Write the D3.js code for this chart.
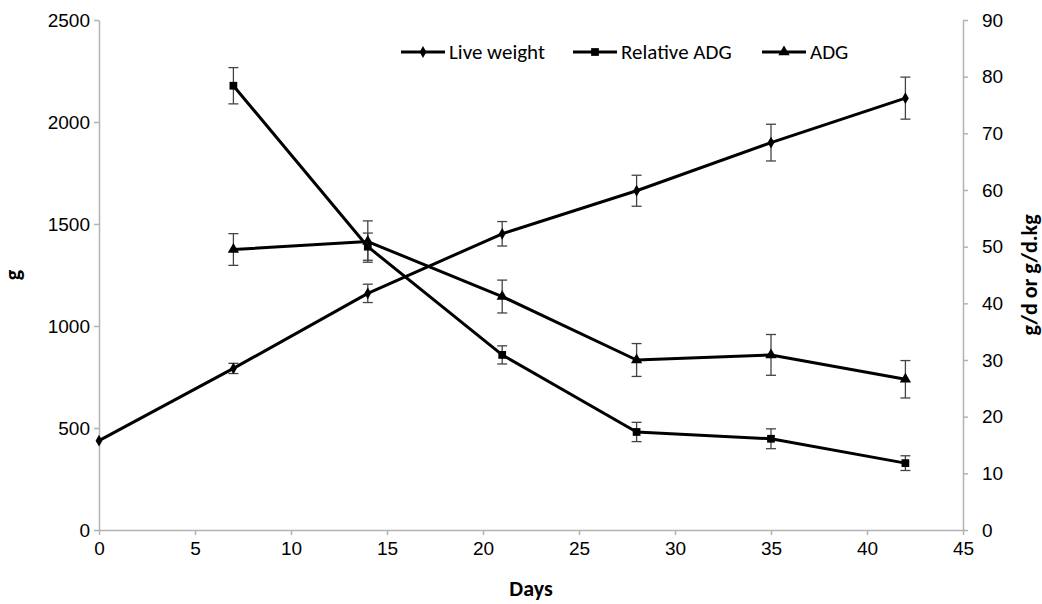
<!DOCTYPE html>
<html>
<head>
<meta charset="utf-8">
<script src="https://cdn.jsdelivr.net/npm/d3@7"></script>
<style>
  body { margin: 0; background: #fff; }
  svg { font-family: Carlito, Calibri, Lato, "Open Sans", sans-serif; }
  .axis path, .axis line { stroke: #b3b3b3; stroke-width: 1.5; }
  .axis text { font-size: 19px; fill: #000; }
  .title { font-size: 22px; font-weight: bold; fill: #000; }
  .legend text { font-size: 21px; fill: #000; }
</style>
</head>
<body>
<div id="chart"></div>
<script>
// data
var days = [0, 7, 14, 21, 28, 35, 42];
var liveWeight = [438, 792, 1160, 1452, 1663, 1899, 2117];
var liveWeightErr = [0, 25, 45, 60, 76, 90, 103];

var relDays = [7, 14, 21, 28, 35, 42];
var relativeADG = [78.4, 50.0, 30.9, 17.3, 16.1, 11.8];
var relativeADGErr = [3.2, 2.4, 1.6, 1.7, 1.75, 1.3];

var adgDays = [7, 14, 21, 28, 35, 42];
var adg = [49.5, 50.9, 41.2, 30.0, 30.9, 26.6];
var adgErr = [2.8, 3.65, 2.9, 2.9, 3.6, 3.3];

var xTicks = [0, 5, 10, 15, 20, 25, 30, 35, 40, 45];
var leftTicks = [0, 500, 1000, 1500, 2000, 2500];
var rightTicks = [0, 10, 20, 30, 40, 50, 60, 70, 80, 90];

var legendNames = ['Live weight', 'Relative ADG', 'ADG'];

var width = 1042, height = 604;
var margin = {top: 20, right: 79, bottom: 74, left: 99};

var svg = d3.select('#chart').append('svg')
  .attr('width', width)
  .attr('height', height);

var x = d3.scaleLinear().domain([0, 45]).range([margin.left, width - margin.right]);
var yLeft = d3.scaleLinear().domain([0, 2500]).range([height - margin.bottom, margin.top]);
var yRight = d3.scaleLinear().domain([0, 90]).range([height - margin.bottom, margin.top]);

//axes
svg.append('g')
  .attr('class', 'axis')
  .attr('transform', 'translate(0,' + (height - margin.bottom) + ')')
  .call(d3.axisBottom(x).tickValues(xTicks).tickSize(5).tickSizeOuter(0).tickPadding(7));

svg.append('g')
  .attr('class', 'axis')
  .attr('transform', 'translate(' + margin.left + ',0)')
  .call(d3.axisLeft(yLeft).tickValues(leftTicks).tickFormat(d3.format('d'))
    .tickSize(5).tickSizeOuter(0).tickPadding(4));

svg.append('g')
  .attr('class', 'axis')
  .attr('transform', 'translate(' + (width - margin.right) + ',0)')
  .call(d3.axisRight(yRight).tickValues(rightTicks).tickSize(5).tickSizeOuter(0).tickPadding(14));

//axis titles
svg.append('text')
  .attr('class', 'title')
  .attr('text-anchor', 'middle')
  .attr('transform', 'translate(20,' + ((margin.top + height - margin.bottom) / 2) + ') rotate(-90)')
  .text('g');

svg.append('text')
  .attr('class', 'title')
  .attr('text-anchor', 'middle')
  .attr('transform', 'translate(1037,' + ((margin.top + height - margin.bottom) / 2) + ') rotate(-90)')
  .text('g/d or g/d.kg');

svg.append('text')
  .attr('class', 'title')
  .attr('text-anchor', 'middle')
  .attr('x', (margin.left + width - margin.right) / 2)
  .attr('y', 596)
  .text('Days');

//build series
var series = [
  {name: legendNames[0], shape: d3.symbolDiamond, size: 40, y: yLeft,
    pts: days.map(function(d, i) { return {x: d, v: liveWeight[i], e: liveWeightErr[i]}; })},
  {name: legendNames[1], shape: d3.symbolSquare, size: 60, y: yRight,
    pts: relDays.map(function(d, i) { return {x: d, v: relativeADG[i], e: relativeADGErr[i]}; })},
  {name: legendNames[2], shape: d3.symbolTriangle, size: 55, y: yRight,
    pts: adgDays.map(function(d, i) { return {x: d, v: adg[i], e: adgErr[i]}; })}
];

//error bars
series.forEach(function(s) {
  var g = svg.append('g').attr('stroke', '#444').attr('stroke-width', 1.3);
  var bars = s.pts.filter(function(p) { return p.e > 0; });
  g.selectAll('line.v').data(bars).enter().append('line')
    .attr('x1', function(p) { return x(p.x); })
    .attr('x2', function(p) { return x(p.x); })
    .attr('y1', function(p) { return s.y(p.v + p.e); })
    .attr('y2', function(p) { return s.y(p.v - p.e); });
  [1, -1].forEach(function(sign) {
    g.selectAll(null).data(bars).enter().append('line')
      .attr('x1', function(p) { return x(p.x) - 5; })
      .attr('x2', function(p) { return x(p.x) + 5; })
      .attr('y1', function(p) { return s.y(p.v + sign * p.e); })
      .attr('y2', function(p) { return s.y(p.v + sign * p.e); });
  });
});

//lines and markers
series.forEach(function(s) {
  var line = d3.line()
    .x(function(p) { return x(p.x); })
    .y(function(p) { return s.y(p.v); });
  svg.append('path')
    .datum(s.pts)
    .attr('fill', 'none')
    .attr('stroke', '#000')
    .attr('stroke-width', 3)
    .attr('stroke-linejoin', 'round')
    .attr('d', line);
  svg.append('g').selectAll('path')
    .data(s.pts)
    .enter()
    .append('path')
    .attr('transform', function(p) { return 'translate(' + x(p.x) + ',' + s.y(p.v) + ')'; })
    .attr('d', d3.symbol().type(s.shape).size(s.size))
    .attr('fill', '#000');
});

//legend
var legendX = [401, 573, 762];
var legend = svg.append('g')
  .attr('class', 'legend')
  .selectAll('g')
  .data(series)
  .enter()
  .append('g')
  .attr('transform', function(d, i) { return 'translate(' + legendX[i] + ',52)'; });
legend.append('line')
  .attr('x1', 0).attr('x2', 44)
  .attr('stroke', '#000').attr('stroke-width', 3);
legend.append('path')
  .attr('transform', 'translate(22,0)')
  .attr('d', function(d) { return d3.symbol().type(d.shape).size(d.size)(); })
  .attr('fill', '#000');
legend.append('text')
  .attr('x', 48)
  .attr('y', 7)
  .text(function(d) { return d.name; });
</script>
</body>
</html>
